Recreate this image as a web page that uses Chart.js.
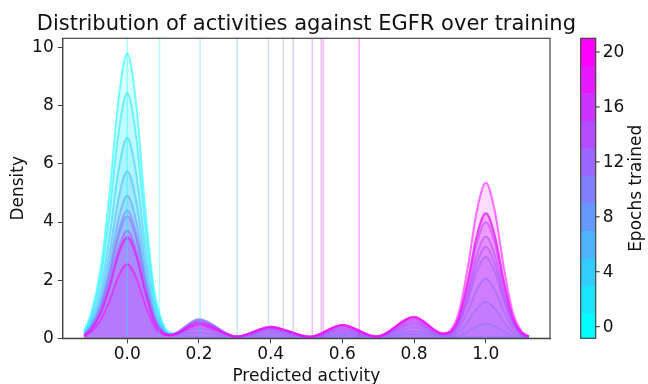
<!DOCTYPE html>
<html>
<head>
<meta charset="utf-8">
<script src="https://cdn.jsdelivr.net/npm/chart.js@4"></script>
<style>
  html, body { margin: 0; padding: 0; background: #fff; }
  #wrap { width: 648px; height: 384px; position: relative; }
</style>
</head>
<body>
<div id="wrap"><canvas id="kdeChart"></canvas></div>
<script>
// epochs that were plotted (one curve + one mean line each)
const epochs = [0, 2, 4, 6, 8, 10, 12, 14, 16, 18, 20];

const xGrid = [-0.12, -0.1, -0.075, -0.05, -0.025, 0, 0.025, 0.05, 0.075, 0.1, 0.12,
               0.2, 0.305, 0.4, 0.51, 0.6, 0.695, 0.8, 0.88,
               0.9, 0.925, 0.95, 0.975, 1.0, 1.025, 1.05, 1.075, 1.1, 1.12];

const epoch0  = [0.25, 0.88, 2.35, 4.9, 8.15, 9.8, 8.05, 4.5, 1.67, 0.49, 0.2,
                 0.05, 0.02, 0.02, 0.02, 0.02, 0.02, 0.02, 0.02,
                 0.02, 0.02, 0.025, 0.03, 0.03, 0.03, 0.025, 0.02, 0.015, 0.01];
const epoch2  = [0.21, 0.76, 2.03, 4.23, 7.01, 8.45, 6.93, 3.89, 1.44, 0.42, 0.15,
                 0.2, 0.05, 0.1, 0.04, 0.1, 0.05, 0.15, 0.06,
                 0.04, 0.09, 0.23, 0.41, 0.5, 0.41, 0.23, 0.09, 0.03, 0.01];
const epoch4  = [0.17, 0.62, 1.66, 3.45, 5.73, 6.9, 5.66, 3.17, 1.17, 0.35, 0.14,
                 0.35, 0.05, 0.18, 0.04, 0.15, 0.05, 0.25, 0.08,
                 0.07, 0.21, 0.58, 1.03, 1.25, 1.03, 0.58, 0.21, 0.06, 0.02];
const epoch6  = [0.14, 0.52, 1.38, 2.88, 4.77, 5.75, 4.72, 2.65, 0.98, 0.29, 0.13,
                 0.5, 0.05, 0.25, 0.04, 0.22, 0.05, 0.38, 0.1,
                 0.11, 0.35, 0.94, 1.68, 2.05, 1.68, 0.94, 0.35, 0.09, 0.03];
const epoch8  = [0.12, 0.44, 1.18, 2.45, 4.07, 4.9, 4.02, 2.25, 0.83, 0.25, 0.12,
                 0.62, 0.06, 0.3, 0.05, 0.28, 0.05, 0.48, 0.12,
                 0.14, 0.48, 1.29, 2.3, 2.8, 2.3, 1.29, 0.48, 0.13, 0.04];
const epoch10 = [0.11, 0.4, 1.06, 2.2, 3.65, 4.4, 3.61, 2.02, 0.75, 0.22, 0.12,
                 0.66, 0.06, 0.33, 0.05, 0.33, 0.05, 0.55, 0.13,
                 0.16, 0.54, 1.45, 2.58, 3.15, 2.58, 1.45, 0.54, 0.14, 0.05];
const epoch12 = [0.1, 0.38, 1.01, 2.1, 3.49, 4.2, 3.44, 1.93, 0.71, 0.21, 0.12,
                 0.64, 0.06, 0.36, 0.05, 0.38, 0.05, 0.62, 0.14,
                 0.18, 0.6, 1.61, 2.87, 3.5, 2.87, 1.61, 0.6, 0.16, 0.05];
const epoch14 = [0.09, 0.33, 0.89, 1.85, 3.07, 3.7, 3.03, 1.7, 0.63, 0.19, 0.11,
                 0.58, 0.06, 0.38, 0.05, 0.42, 0.06, 0.68, 0.15,
                 0.2, 0.68, 1.84, 3.28, 4.0, 3.28, 1.84, 0.68, 0.18, 0.06];
const epoch16 = [0.09, 0.32, 0.84, 1.75, 2.9, 3.5, 2.87, 1.61, 0.6, 0.18, 0.11,
                 0.55, 0.06, 0.4, 0.05, 0.45, 0.06, 0.72, 0.16,
                 0.21, 0.73, 1.98, 3.53, 4.3, 3.53, 1.98, 0.73, 0.19, 0.06];
const epoch18 = [0.09, 0.31, 0.83, 1.73, 2.86, 3.45, 2.83, 1.59, 0.59, 0.17, 0.11,
                 0.52, 0.06, 0.4, 0.05, 0.46, 0.06, 0.73, 0.16,
                 0.21, 0.73, 1.98, 3.53, 4.3, 3.53, 1.98, 0.73, 0.19, 0.06];
const epoch20 = [0.06, 0.23, 0.61, 1.28, 2.12, 2.55, 2.09, 1.17, 0.43, 0.13, 0.1,
                 0.45, 0.06, 0.38, 0.05, 0.47, 0.06, 0.74, 0.17,
                 0.25, 0.91, 2.46, 4.39, 5.35, 4.39, 2.46, 0.91, 0.24, 0.08];

// mean predicted activity per epoch (vertical lines)
const meanActivity = [0.0, 0.09, 0.203, 0.307, 0.394, 0.435, 0.463, 0.516, 0.541, 0.547, 0.647];

const xTicks = [0, 0.2, 0.4, 0.6, 0.8, 1.0];
const yTicks = [0, 2, 4, 6, 8, 10];
const cbTicks = [0, 4, 8, 12, 16, 20];

const densityRows = [epoch0, epoch2, epoch4, epoch6, epoch8, epoch10, epoch12, epoch14, epoch16, epoch18, epoch20];

const FONT = 'DejaVu Sans';
const cool = t => [Math.round(255 * t), Math.round(255 * (1 - t)), 255];
const rgba = (c, a) => `rgba(${c[0]}, ${c[1]}, ${c[2]}, ${a})`;

const datasets = [];
densityRows.forEach((row, i) => {
    const c = cool(epochs[i] / 20);
    datasets.push({
        data: row.map((y, j) => ({ x: xGrid[j], y: y })),
        borderColor: rgba(c, 0.55),
        backgroundColor: rgba(c, 0.14),
        borderWidth: 2,
        fill: 'origin',
        pointRadius: 0,
        cubicInterpolationMode: 'monotone',
        order: 100 - i
    });
});
meanActivity.forEach((m, i) => {
    const c = cool(epochs[i] / 20);
    datasets.push({
        data: [{ x: m, y: 0 }, { x: m, y: 12 }],
        borderColor: rgba(c, 0.33),
        borderWidth: 1.5,
        fill: false,
        pointRadius: 0,
        tension: 0,
        order: 50 - i
    });
});

// frame, title and colour bar
const extras = {
    id: 'extras',
    afterDraw(chart) {
        const ctx = chart.ctx;
        const a = chart.chartArea;
        ctx.save();
        ctx.strokeStyle = '#444';
        ctx.lineWidth = 1.2;
        ctx.strokeRect(a.left, a.top, a.right - a.left, a.bottom - a.top);

        ctx.fillStyle = '#111';
        ctx.font = `21px "${FONT}"`;
        ctx.textAlign = 'center';
        ctx.textBaseline = 'alphabetic';
        ctx.fillText('Distribution of activities against EGFR over training', (a.left + a.right) / 2, 30);

        // colour bar
        const cbMin = -0.85, cbMax = 21;
        const cbX = 580.7, cbW = 15;
        const yOf = v => a.bottom - (v - cbMin) / (cbMax - cbMin) * (a.bottom - a.top);
        epochs.forEach(e => {
            const lo = Math.max(e - 1, cbMin), hi = Math.min(e + 1, cbMax);
            ctx.fillStyle = rgba(cool(e / 20), 1);
            ctx.fillRect(cbX, yOf(hi), cbW, yOf(lo) - yOf(hi) + 0.5);
        });
        ctx.strokeStyle = '#444';
        ctx.strokeRect(cbX, a.top, cbW, a.bottom - a.top);
        ctx.fillStyle = '#111';
        ctx.font = `17px "${FONT}"`;
        ctx.textAlign = 'left';
        ctx.textBaseline = 'middle';
        cbTicks.forEach(t => {
            const y = yOf(t);
            ctx.beginPath();
            ctx.moveTo(cbX + cbW, y);
            ctx.lineTo(cbX + cbW + 4, y);
            ctx.stroke();
            ctx.fillText(String(t), cbX + cbW + 7, y + 1);
        });
        ctx.translate(637, (a.top + a.bottom) / 2);
        ctx.rotate(-Math.PI / 2);
        ctx.textAlign = 'center';
        ctx.fillText('Epochs trained', 0, 0);
        ctx.restore();
    }
};

const tickFont = { family: FONT, size: 17 };
new Chart(document.getElementById('kdeChart').getContext('2d'), {
    type: 'line',
    data: { datasets: datasets },
    options: {
        responsive: true,
        maintainAspectRatio: false,
        animation: false,
        layout: { padding: { left: 0, right: 98, top: 38.3, bottom: 0 } },
        plugins: { legend: { display: false }, tooltip: { enabled: false } },
        scales: {
            x: {
                type: 'linear',
                min: -0.18,
                max: 1.179,
                afterBuildTicks: s => { s.ticks = xTicks.map(v => ({ value: v })); },
                afterFit: s => { s.height = 45.7; s.paddingLeft = 0; s.paddingRight = 0; },
                ticks: { callback: v => v.toFixed(1), font: tickFont, color: '#111', padding: 1, maxRotation: 0 },
                grid: { drawOnChartArea: false, drawTicks: true, tickLength: 5, color: '#444' },
                border: { color: '#444', width: 1.2 },
                title: { display: true, text: 'Predicted activity', color: '#111', font: { family: FONT, size: 17, lineHeight: 1 }, padding: { top: 0, bottom: -1.5 } }
            },
            y: {
                min: 0,
                max: 10.32,
                afterBuildTicks: s => { s.ticks = yTicks.map(v => ({ value: v })); },
                afterFit: s => { s.width = 62.7; s.paddingTop = 0; s.paddingBottom = 0; },
                ticks: { font: tickFont, color: '#111', padding: 4 },
                grid: { drawOnChartArea: false, drawTicks: true, tickLength: 5, color: '#444' },
                border: { color: '#444', width: 1.2 },
                title: { display: true, text: 'Density', color: '#111', font: { family: FONT, size: 17, lineHeight: 1.2 }, padding: { top: 8.4, bottom: 0 } }
            }
        }
    },
    plugins: [extras]
});
</script>
</body>
</html>
